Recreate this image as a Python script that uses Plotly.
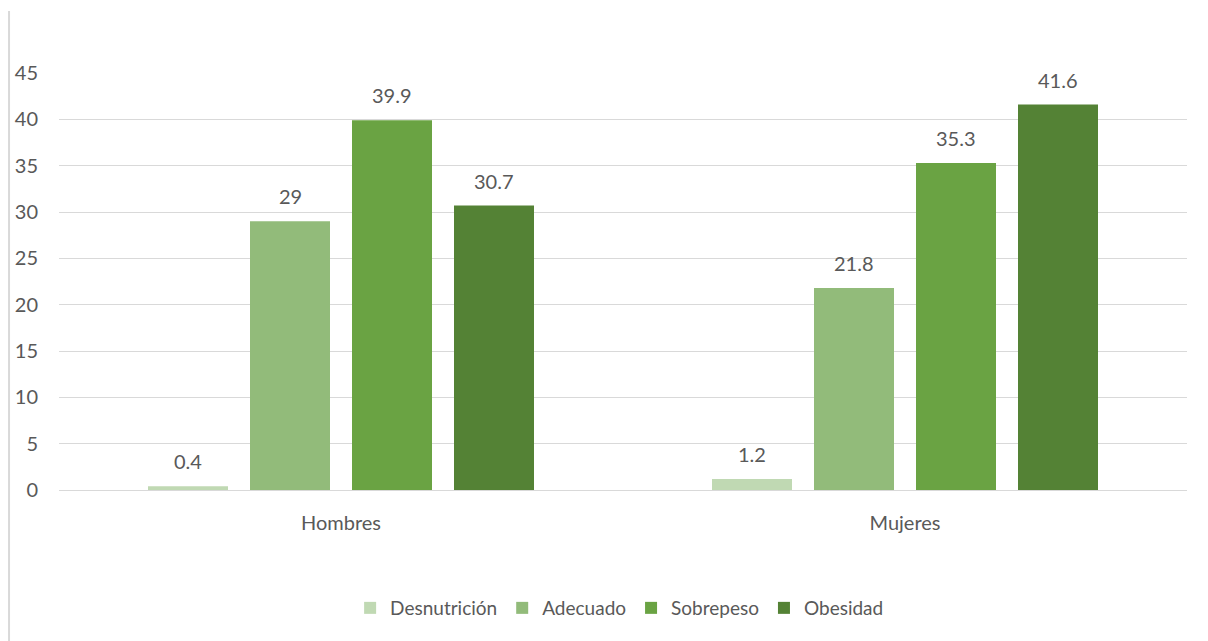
import plotly.graph_objects as go

categories = ["Hombres", "Mujeres"]
series_names = ["Desnutrición", "Adecuado", "Sobrepeso", "Obesidad"]
desnutricion = [0.4, 1.2]
adecuado = [29, 21.8]
sobrepeso = [39.9, 35.3]
obesidad = [30.7, 41.6]
y_ticks = [0, 5, 10, 15, 20, 25, 30, 35, 40, 45]

series_values = [desnutricion, adecuado, sobrepeso, obesidad]
colors = ["#C0D9B3", "#92BB7A", "#6AA343", "#548235"]

FONT = "Lato, 'Open Sans', sans-serif"
TXT = "#595959"

fig = go.Figure()
for name, vals, col in zip(series_names, series_values, colors):
    fig.add_trace(go.Bar(name=name, x=categories, y=vals, marker_color=col,
                         marker_line_width=0))

# data labels
slot_px = 102
for i, vals in enumerate(series_values):
    for cat, v in zip(categories, vals):
        fig.add_annotation(x=cat, y=v, xref="x", yref="y",
                           text=f"{v:g}", showarrow=False,
                           xshift=(i - 1.5) * slot_px, yshift=25,
                           yanchor="middle",
                           font=dict(family=FONT, size=20, color=TXT))

# chart frame left line
fig.add_shape(type="line", xref="paper", yref="paper",
              x0=-0.0443, x1=-0.0443, y0=1.1487, y1=-0.40,
              line=dict(color="#D9D9D9", width=2))

fig.update_layout(
    width=1208, height=641,
    margin=dict(l=59, r=21, t=73, b=151),
    paper_bgcolor="white", plot_bgcolor="white",
    barmode="group", bargap=0.2766, bargroupgap=0.2157,
    font=dict(family=FONT, size=20, color=TXT),
    showlegend=True,
    legend=dict(orientation="h", x=0.497, xanchor="center", y=-0.283,
                yanchor="middle", font=dict(family=FONT, size=19, color=TXT),
                itemwidth=30, traceorder="normal"),
)
fig.update_yaxes(range=[0, 45], tickvals=y_ticks, showgrid=True,
                 gridcolor="#D9D9D9", gridwidth=1, zeroline=False,
                 showline=False, ticks="", ticklabelstandoff=20,
                 tickfont=dict(family=FONT, size=20, color=TXT))
fig.update_xaxes(showline=True, linecolor="#D9D9D9", linewidth=1,
                 ticks="", ticklabelstandoff=15,
                 tickfont=dict(family=FONT, size=20, color=TXT))

fig.write_html("out.html")
